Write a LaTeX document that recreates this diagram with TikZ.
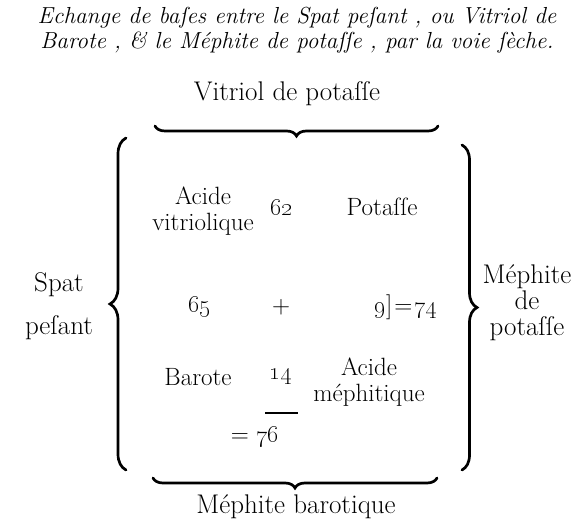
\documentclass[tikz,border=0pt]{standalone}
\usetikzlibrary{decorations.pathreplacing, positioning}

\begin{document}
\begin{tikzpicture}[x=1pt, y=-1pt,
    txt/.style={font=\fontsize{25}{26}\selectfont, align=center, inner sep=0pt},
    big/.style={txt, font=\fontsize{27}{26}\selectfont},
    brc/.style={decorate, decoration={brace, amplitude=#1}, line width=2.7pt, line cap=round}]
      \useasboundingbox (0,0) rectangle (574,521);

      % Titre
      \node[txt, font=\fontsize{23.2}{25}\selectfont\itshape] (titre) at (297,30) {Echange de baſes entre le Spat peſant , ou Vitriol de\\Barote , \& le Méphite de potaſſe , par la voie ſèche.};

      % Accolades
      \node[big] (vpot) at (287,94) {Vitriol de potaſſe};
      \draw[brc=10pt, decoration={mirror}] (155,126) -- (438,126);
      \draw[brc=10pt, decoration={mirror}] (153,478) -- (437,478);
      \draw[brc=16pt] (126,470) -- (126,138);
      \draw[brc=15pt] (462,145) -- (462,470);
      \node[big] (mbar) at (296,507) {Méphite barotique};

      % Cotes
      \node[big] (spat) at (59,285) {Spat};
      \node[big] (pesant) at (59,328) {peſant};
      \node[big] (mpot) at (527,303) {Méphite\\de\\potaſſe};

      % Dedans
      \node[txt] (avit) at (203,211) {Acide\\vitriolique};
      \node[txt] (n62) at (282,207) {\oldstylenums{62}};
      \node[txt] (pot) at (382,207) {Potaſſe};
      \node[txt] (n65) at (200,307) {\oldstylenums{65}};
      \node[txt] (plus) at (281,307) {+};
      \node[txt] (n74) at (406,307) {\oldstylenums{9}]\hspace{2pt}=\hspace{2pt}\oldstylenums{74}};
      \node[txt] (bar) at (198,377) {Barote};
      \node[txt] (n14) at (281,377) {\oldstylenums{14}};
      \node[txt] (amep) at (369,382) {Acide\\méphitique};
      \draw[line width=1.3pt] (265,413) -- (298,413);
      \node[txt] (n76) at (255,437) {=\ \oldstylenums{76}};
    \end{tikzpicture}
\end{document}
